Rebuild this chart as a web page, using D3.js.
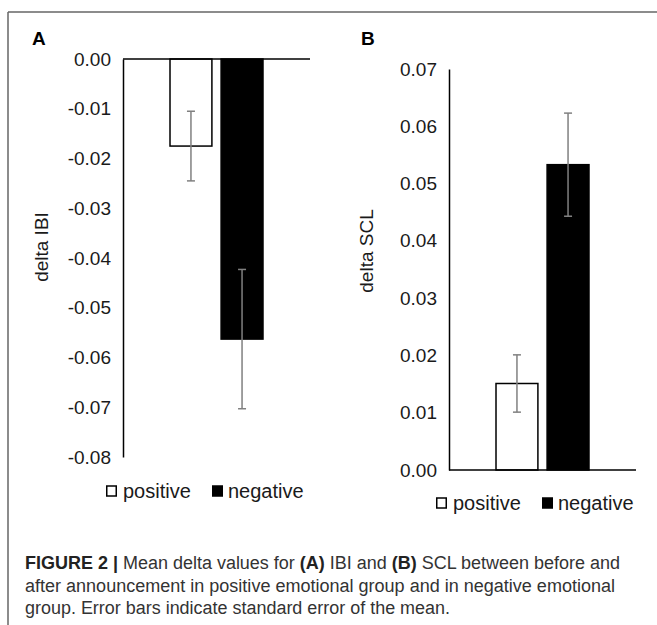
<!DOCTYPE html>
<html>
<head>
<meta charset="utf-8">
<script src="https://cdn.jsdelivr.net/npm/d3@7"></script>
<style>
  body { margin: 0; background: #fff; }
  svg { display: block; font-family: "Liberation Sans", Arial, sans-serif; }
</style>
</head>
<body>
<div id="chart"></div>
<script>
// data
const groups = ["positive", "negative"];
const ibiMean = [-0.0175, -0.0563];
const ibiSE = [0.007, 0.014];
const sclMean = [0.0151, 0.0533];
const sclSE = [0.005, 0.009];
const ibiTicks = [0, -0.01, -0.02, -0.03, -0.04, -0.05, -0.06, -0.07, -0.08];
const sclTicks = [0, 0.01, 0.02, 0.03, 0.04, 0.05, 0.06, 0.07];
const captionLines = [
  [["FIGURE 2 | ", true], ["Mean delta values for ", false], ["(A)", true], [" IBI and ", false], ["(B)", true], [" SCL between before and", false]],
  [["after announcement in positive emotional group and in negative emotional", false]],
  [["group. Error bars indicate standard error of the mean.", false]]
];

const W = 657, H = 625;
const fills = ["#fff", "#000"];

const svg = d3.select("#chart")
  .append("svg")
  .attr("width", W)
  .attr("height", H);

// figure frame (top and left only)
svg.append("line").attr("x1", 8).attr("x2", W).attr("y1", 12).attr("y2", 12)
  .attr("stroke", "#666").attr("stroke-width", 1.5);
svg.append("line").attr("x1", 8).attr("x2", 8).attr("y1", 12).attr("y2", H)
  .attr("stroke", "#666").attr("stroke-width", 1.5);

function panel(opt) {
  const g = svg.append("g");

  const x = d3.scaleBand()
    .domain(groups)
    .range([opt.left, opt.right])
    .paddingInner(0.18)
    .paddingOuter(0.92);

  const y = d3.scaleLinear()
    .domain(opt.domain)
    .range(opt.yRange);

  // panel letter
  g.append("text")
    .attr("x", opt.letterX).attr("y", 45)
    .attr("font-size", 19).attr("font-weight", "bold")
    .text(opt.letter);

  // y axis (plain hyphen for negatives, like the original)
  const yAxis = g.append("g")
    .attr("transform", `translate(${opt.left},0)`)
    .call(d3.axisLeft(y).tickValues(opt.ticks).tickFormat(d => d.toFixed(2))
      .tickSize(0).tickPadding(12));
  yAxis.select(".domain").attr("stroke", "#000").attr("stroke-width", 1.5);
  yAxis.selectAll("text").attr("font-size", 19).attr("fill", "#1a1a1a")
    .attr("font-family", "Liberation Sans, Arial, sans-serif");

  // bars
  g.selectAll("rect.bar")
    .data(opt.mean)
    .join("rect")
    .attr("class", "bar")
    .attr("x", (d, i) => x(groups[i]))
    .attr("width", x.bandwidth())
    .attr("y", d => Math.min(y(d), y(0)))
    .attr("height", d => Math.abs(y(d) - y(0)))
    .attr("fill", (d, i) => fills[i])
    .attr("stroke", "#000")
    .attr("stroke-width", 1.5);

  // category baseline
  g.append("line")
    .attr("x1", opt.left).attr("x2", opt.right)
    .attr("y1", y(0)).attr("y2", y(0))
    .attr("stroke", "#000").attr("stroke-width", 1.5);

  // error bars
  const eb = g.selectAll("g.err")
    .data(opt.mean.map((m, i) => ({ m, se: opt.se[i], cx: x(groups[i]) + x.bandwidth() / 2 })))
    .join("g").attr("class", "err")
    .attr("stroke", "#808080").attr("stroke-width", 1.5);
  eb.append("line")
    .attr("x1", d => d.cx).attr("x2", d => d.cx)
    .attr("y1", d => y(d.m - d.se)).attr("y2", d => y(d.m + d.se));
  eb.append("line")
    .attr("x1", d => d.cx - 4).attr("x2", d => d.cx + 4)
    .attr("y1", d => y(d.m - d.se)).attr("y2", d => y(d.m - d.se));
  eb.append("line")
    .attr("x1", d => d.cx - 4).attr("x2", d => d.cx + 4)
    .attr("y1", d => y(d.m + d.se)).attr("y2", d => y(d.m + d.se));

  // y label
  g.append("text")
    .attr("transform", `translate(${opt.labelX},${opt.labelY}) rotate(-90)`)
    .attr("text-anchor", "middle")
    .attr("dominant-baseline", "middle")
    .attr("font-size", 19).attr("fill", "#1a1a1a")
    .text(opt.label);

  // legend
  const lg = g.selectAll("g.leg")
    .data(groups)
    .join("g").attr("class", "leg")
    .attr("transform", (d, i) => `translate(${opt.legendX[i]},${opt.legendY})`);
  lg.append("rect")
    .attr("x", 0.75).attr("y", -5).attr("width", 9.5).attr("height", 10)
    .attr("fill", (d, i) => fills[i])
    .attr("stroke", "#000").attr("stroke-width", 1.5);
  lg.append("text")
    .attr("x", (d, i) => i === 0 ? 17 : 16)
    .attr("dy", "0.35em")
    .attr("font-size", 20).attr("fill", "#1a1a1a")
    .text(d => d);
}

panel({
  letter: "A", letterX: 32,
  left: 123, right: 310,
  domain: [-0.08, 0], yRange: [457, 59],
  ticks: ibiTicks, mean: ibiMean, se: ibiSE,
  label: "delta IBI", labelX: 43, labelY: 247,
  legendX: [106, 212], legendY: 491
});

panel({
  letter: "B", letterX: 361,
  left: 449, right: 636,
  domain: [0, 0.07], yRange: [470, 69],
  ticks: sclTicks, mean: sclMean, se: sclSE,
  label: "delta SCL", labelX: 368, labelY: 251,
  legendX: [436, 542], legendY: 503
});

// caption
const capWidths = [595, 590, 425];
const cap = svg.append("g")
  .attr("font-family", "'Liberation Sans Narrow', 'Liberation Sans', Arial, sans-serif")
  .attr("font-size", 18)
  .attr("fill", "#333");
captionLines.forEach((parts, i) => {
  const t = cap.append("text")
    .attr("x", 25)
    .attr("y", 569 + i * 22.5)
    .attr("textLength", capWidths[i])
    .attr("lengthAdjust", "spacingAndGlyphs");
  parts.forEach(p => {
    t.append("tspan")
      .attr("font-weight", p[1] ? "bold" : "normal")
      .attr("fill", p[1] ? "#222" : "#333")
      .text(p[0]);
  });
});
</script>
</body>
</html>
